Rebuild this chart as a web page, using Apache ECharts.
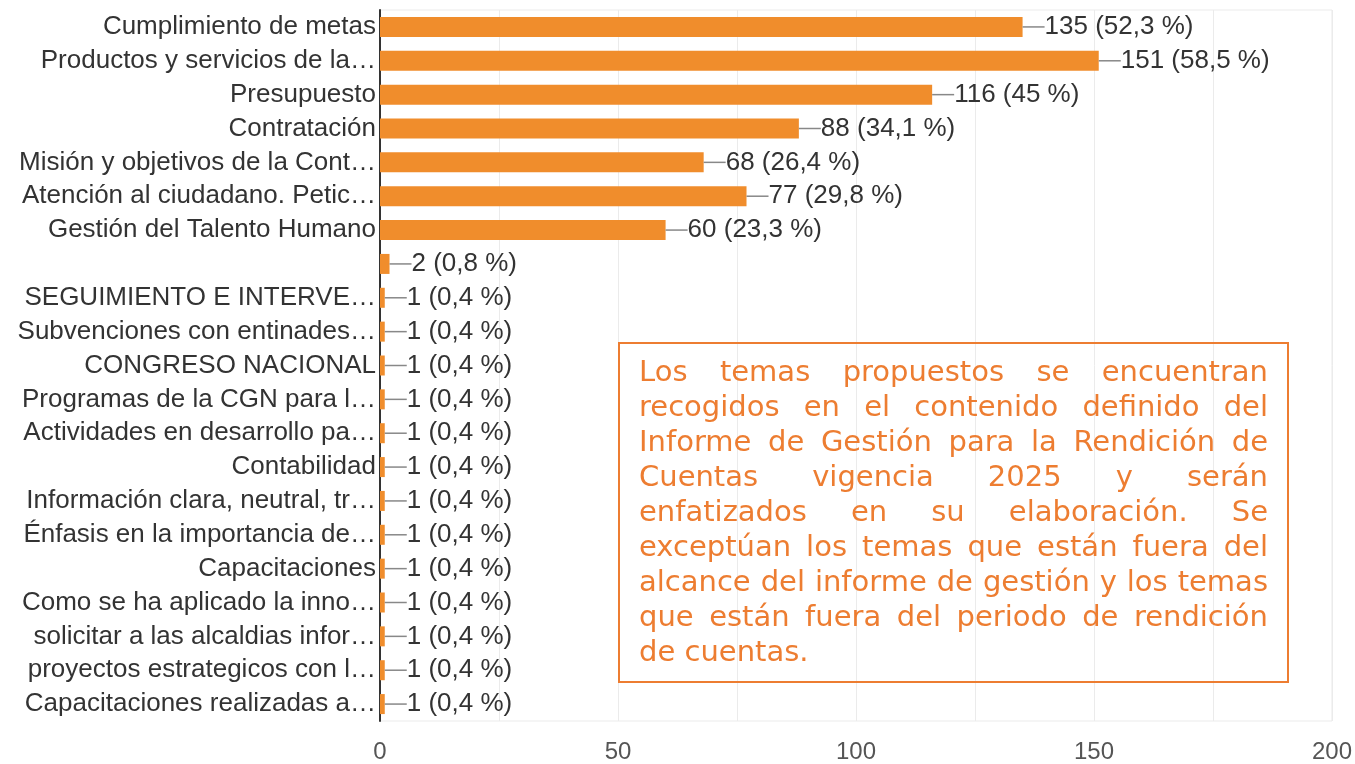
<!DOCTYPE html>
<html><head><meta charset="utf-8">
<script src="https://cdn.jsdelivr.net/npm/echarts@6/dist/echarts.min.js"></script>
<style>
html,body{margin:0;padding:0;background:#fff;}
#c{width:1355px;height:764px;position:relative;}
#note{position:absolute;left:618px;top:342px;width:629px;height:321px;border:2px solid #ED7D31;padding:10px 19px 6px 19px;color:#ED7D31;font-family:"DejaVu Sans",Verdana,sans-serif;font-size:29px;line-height:35px;box-sizing:content-box;background:transparent;}
#note div{text-align:justify;text-align-last:justify;white-space:nowrap;height:35px;}
#note div.last{text-align-last:left;}
</style></head>
<body>
<div id="c"></div>
<div id="note"></div>
<script>
const categories = [
  "Cumplimiento de metas","Productos y servicios de la…","Presupuesto","Contratación",
  "Misión y objetivos de la Cont…","Atención al ciudadano. Petic…","Gestión del Talento Humano","",
  "SEGUIMIENTO E INTERVE…","Subvenciones con entinades…","CONGRESO NACIONAL","Programas de la CGN para l…",
  "Actividades en desarrollo pa…","Contabilidad","Información clara, neutral, tr…","Énfasis en la importancia de…",
  "Capacitaciones","Como se ha aplicado la inno…","solicitar a las alcaldias infor…","proyectos estrategicos con l…",
  "Capacitaciones realizadas a…"
];
const values = [135,151,116,88,68,77,60,2,1,1,1,1,1,1,1,1,1,1,1,1,1];
const percents = ["52,3 %","58,5 %","45 %","34,1 %","26,4 %","29,8 %","23,3 %","0,8 %",
  "0,4 %","0,4 %","0,4 %","0,4 %","0,4 %","0,4 %","0,4 %","0,4 %","0,4 %","0,4 %","0,4 %","0,4 %","0,4 %"];
const xTicks = [0,50,100,150,200];
const noteLines = [
  "Los temas propuestos se encuentran",
  "recogidos en el contenido definido del",
  "Informe de Gestión para la Rendición de",
  "Cuentas vigencia 2025 y serán",
  "enfatizados en su elaboración. Se",
  "exceptúan los temas que están fuera del",
  "alcance del informe de gestión y los temas",
  "que están fuera del periodo de rendición",
  "de cuentas."
];

const note = document.getElementById('note');
noteLines.forEach((t,i)=>{const d=document.createElement('div');d.textContent=t;if(i===noteLines.length-1)d.className='last';note.appendChild(d);});

const chart = echarts.init(document.getElementById('c'));
const FONT = '"Liberation Sans", Arial, sans-serif';
chart.setOption({
  animation:false,
  grid:{left:380,right:23,top:10,bottom:41,show:true,borderColor:'#ebebeb',borderWidth:1,containLabel:false},
  xAxis:{type:'value',min:xTicks[0],max:xTicks[xTicks.length-1],interval:50,
    axisLine:{show:false},axisTick:{show:false},
    axisLabel:{color:'#555',fontFamily:FONT,fontSize:24,margin:19},
    splitLine:{show:true,lineStyle:{color:'#ebebeb',width:1}},
    minorTick:{show:false,splitNumber:2},
    minorSplitLine:{show:true,lineStyle:{color:'#ebebeb',width:1}}
  },
  yAxis:{type:'category',data:categories,inverse:true,
    axisLine:{show:true,lineStyle:{color:'#333',width:2}},axisTick:{show:false},
    axisLabel:{color:'#333',fontFamily:FONT,fontSize:26,margin:4,interval:0},
    splitLine:{show:false}
  },
  series:[{type:'bar',data:values,barWidth:20,itemStyle:{color:'#F08D2C'},
    label:{show:true,position:'right',distance:0,
      formatter:p=>'{ln|}{t|'+p.value+' ('+percents[p.dataIndex]+')}',
      rich:{ln:{width:22,height:1.5,backgroundColor:'#888'},
            t:{color:'#333',fontFamily:FONT,fontSize:26}}
    }
  }]
});
</script>
</body></html>
